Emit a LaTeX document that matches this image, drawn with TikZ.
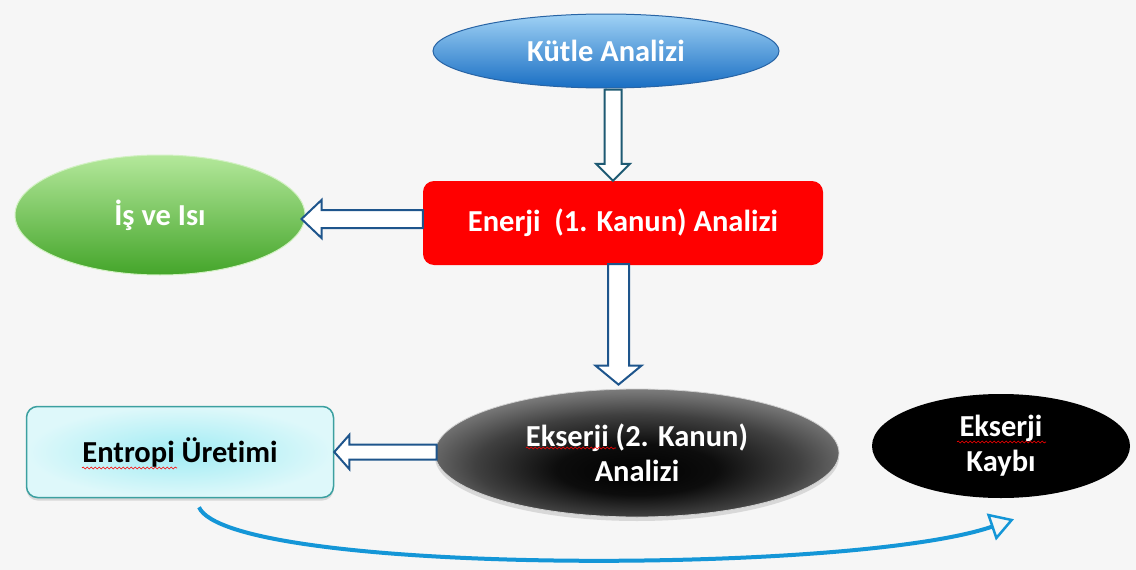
\documentclass[tikz,border=0pt]{standalone}
\usepackage{fontspec}
\setmainfont[Ligatures=NoCommon]{Carlito}
\usetikzlibrary{calc,shapes.geometric,arrows.meta,shadows,decorations.pathmorphing}
\definecolor{bgc}{RGB}{246,246,246}
\definecolor{kutletop}{RGB}{160,210,245}
\definecolor{kutlebot}{RGB}{25,110,195}
\definecolor{kutleedge}{RGB}{40,100,165}
\definecolor{greentop}{RGB}{180,232,155}
\definecolor{greenbot}{RGB}{68,165,42}
\definecolor{arrowedge}{RGB}{30,85,140}
\definecolor{curvec}{RGB}{20,150,215}
\definecolor{entin}{RGB}{160,236,244}
\definecolor{entout}{RGB}{222,248,250}
\definecolor{entedge}{RGB}{60,160,160}
\pgfdeclareradialshading{eksshade}{\pgfpoint{0bp}{-8bp}}{color(0bp)=(black); color(10bp)=(black!95); color(20bp)=(black!75); color(27bp)=(black!55); color(31bp)=(black!45); color(50bp)=(black!45)}
\begin{document}
\begin{tikzpicture}[x=1pt,y=-1pt,
  lbl/.style={font=\fontsize{30.5}{35}\selectfont\bfseries, text=white, align=center},
  hollow/.style={draw=arrowedge, line width=2pt, fill=white, line join=miter},
  downarrow/.style n args={3}{to path={let \p1=(\tikztostart), \p2=(\tikztotarget) in
     (\x1-#1pt,\y1) -- (\x1-#1pt,\y2+#3pt) -- (\x1-#2pt,\y2+#3pt) -- (\x1,\y2)
     -- (\x1+#2pt,\y2+#3pt) -- (\x1+#1pt,\y2+#3pt) -- (\x1+#1pt,\y1) -- cycle}},
  leftarrow/.style n args={3}{to path={let \p1=(\tikztostart), \p2=(\tikztotarget) in
     (\x1,\y1-#1pt) -- (\x2+#3pt,\y1-#1pt) -- (\x2+#3pt,\y1-#2pt) -- (\x2,\y1)
     -- (\x2+#3pt,\y1+#2pt) -- (\x2+#3pt,\y1+#1pt) -- (\x1,\y1+#1pt) -- cycle}},
  spell/.style={draw=red, line width=0.6pt, decorate, decoration={snake, amplitude=1pt, segment length=4pt}}
]
\useasboundingbox (0,0) rectangle (1136,570);
\fill[bgc] (0,0) rectangle (1136,570);

% nodes
\node[ellipse, minimum width=346pt, minimum height=74pt, draw=kutleedge, line width=1pt,
      top color=kutletop, bottom color=kutlebot, lbl] (kutle) at (606,51) {Kütle Analizi};
\node[rectangle, rounded corners=11pt, minimum width=400pt, minimum height=84pt,
      fill=red, lbl] (enerji) at (623,223) {Enerji\ \ (1. Kanun) Analizi};
\node[ellipse, minimum width=290pt, minimum height=120pt, draw=greentop!60!white, line width=1pt,
      top color=greentop, bottom color=greenbot, lbl] (isi) at (160,215) {İş ve Isı};
\node[ellipse, minimum width=404pt, minimum height=128pt, draw=gray!35, line width=0.8pt,
      shading=eksshade,
      drop shadow={shadow xshift=0pt, shadow yshift=-4pt, opacity=0.25},
      lbl] (eks) at (637,453) {Ekserji (2. Kanun)\\Analizi};
\node[rectangle, rounded corners=11pt, minimum width=307pt, minimum height=91pt,
      draw=entedge, line width=1.5pt, inner color=entin, outer color=entout,
      drop shadow={shadow xshift=0pt, shadow yshift=-3pt, opacity=0.25},
      lbl, text=black] (ent) at (180,452) {Entropi Üretimi};
\node[ellipse, minimum width=258pt, minimum height=104pt, fill=black, lbl] (kayip) at (1001,446) {Ekserji\\Kaybı};

% block arrows
\coordinate (a1s) at ($(kutle.south)+(7,1)$);
\coordinate (a1e) at ($(enerji.north)+(7,0)$);
\draw[hollow, draw={rgb,255:red,30;green,90;blue,115}, downarrow={8.5}{17}{17}] (a1s) to (a1e);

\coordinate (a2s) at ($(enerji.south)+(-4.5,-1)$);
\coordinate (a2e) at ($(eks.north)+(0,-4)$);
\draw[hollow, downarrow={10.5}{23}{19}] (a2s) to (a2e);

\coordinate (a3s) at ($(enerji.west)+(0,-4)$);
\coordinate (a3e) at ($(isi.east)+(-4,0)$);
\draw[hollow, leftarrow={9}{19}{20}] (a3s) to (a3e);

\coordinate (a4s) at ($(eks.west)+(2,-1)$);
\coordinate (a4e) at (ent.east);
\draw[hollow, leftarrow={7.5}{17}{15}] (a4s) to (a4e);

% curved arrow
\coordinate (cs) at ($(ent.south)+(19,9)$);
\coordinate (ce) at ($(kayip.south)+(13,21)$);
\draw[curvec, line width=4pt, -{Triangle[open, length=24pt, width=28pt, line width=2.5pt]}]
  (cs) .. controls (230,575) and (850,575) .. (ce);

% spell-check underlines
\draw[spell] (82,468) -- (177,468);
\draw[spell] (526,448) -- (616,448);
\draw[spell] (957,442) -- (1046,442);
\end{tikzpicture}
\end{document}
